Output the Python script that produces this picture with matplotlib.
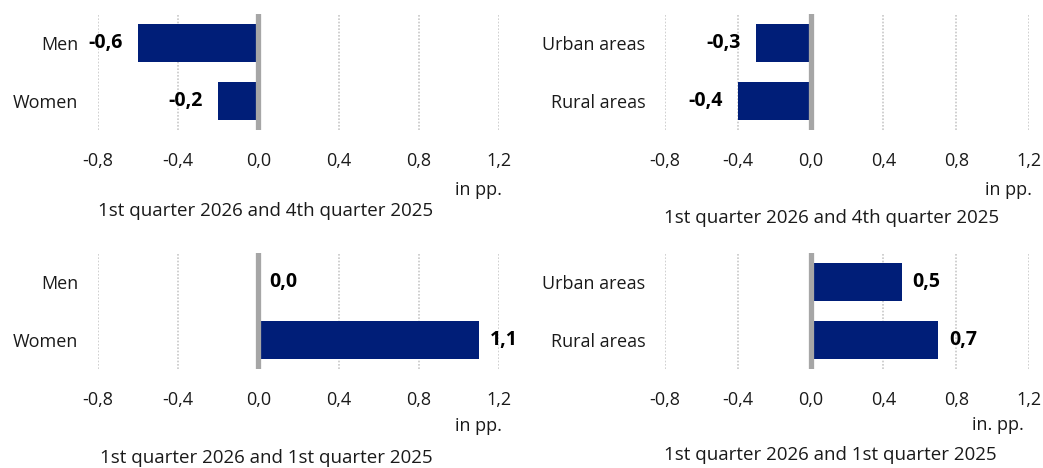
import matplotlib.pyplot as plt

# data
gender_cats = ['Men', 'Women']
area_cats = ['Urban areas', 'Rural areas']
gender_q4 = [-0.6, -0.2]
area_q4 = [-0.3, -0.4]
gender_q1 = [0.0, 1.1]
area_q1 = [0.5, 0.7]
titles = ['1st quarter 2026 and 4th quarter 2025', '1st quarter 2026 and 4th quarter 2025',
          '1st quarter 2026 and 1st quarter 2025', '1st quarter 2026 and 1st quarter 2025']
units = ['in pp.', 'in pp.', 'in pp.', 'in. pp.']
ticks = [-0.8, -0.4, 0.0, 0.4, 0.8, 1.2]

plt.rcParams['font.family'] = ['Open Sans', 'DejaVu Sans']
W, H = 1043, 468
bar_color = '#001E78'
text_color = '#1a1a1a'
fs = 13

fig = plt.figure(figsize=(W / 100, H / 100), dpi=100)


def px_axes(x0, x1, y0, y1):
    return fig.add_axes([x0 / W, 1 - y1 / H, (x1 - x0) / W, (y1 - y0) / H])


panels = [
    (gender_cats, gender_q4, (98, 499, 14, 130), (502, 190), (266, 211)),
    (area_cats, area_q4, (665, 1029, 14, 130), (1032, 190), (832, 218)),
    (gender_cats, gender_q1, (98, 499, 253, 369), (502, 426), (266, 458)),
    (area_cats, area_q1, (665, 1029, 253, 369), (1024, 425), (830, 455)),
]

for i, (cats, vals, box, upos, tpos) in enumerate(panels):
    ax = px_axes(*box)
    y = list(range(len(cats)))
    ax.barh(y, vals, height=0.64, color=bar_color, zorder=2)
    ax.axvline(0, color='#A6A6A6', linewidth=3.8, zorder=3)
    for yy, v in zip(y, vals):
        lab = f'{v:.1f}'.replace('.', ',')
        if v < 0:
            ax.annotate(lab, (v, yy), xytext=(-11, 0), textcoords='offset points',
                        ha='right', va='center', fontsize=14, fontweight='bold', color='black')
        else:
            ax.annotate(lab, (v, yy), xytext=(8, 0), textcoords='offset points',
                        ha='left', va='center', fontsize=14, fontweight='bold', color='black')
    ax.set_xlim(-0.8, 1.2)
    ax.set_ylim(1.5, -0.5)
    ax.set_xticks(ticks)
    ax.set_xticklabels([f'{t:.1f}'.replace('.', ',') for t in ticks])
    ax.set_yticks(y)
    ax.set_yticklabels(cats)
    ax.tick_params(axis='both', length=0, labelsize=fs, colors=text_color)
    ax.tick_params(axis='x', pad=16)
    ax.tick_params(axis='y', pad=14)
    ax.grid(axis='x', color='#C8C8C8', linestyle=(0, (1, 1)), linewidth=1.2, zorder=0)
    for s in ax.spines.values():
        s.set_visible(False)
    fig.text(upos[0] / W, 1 - upos[1] / H, units[i], ha='right', va='center',
             fontsize=fs, color=text_color)
    fig.text(tpos[0] / W, 1 - tpos[1] / H, titles[i], ha='center', va='center',
             fontsize=13.5, color=text_color)

fig.savefig('out.png', dpi=100)
